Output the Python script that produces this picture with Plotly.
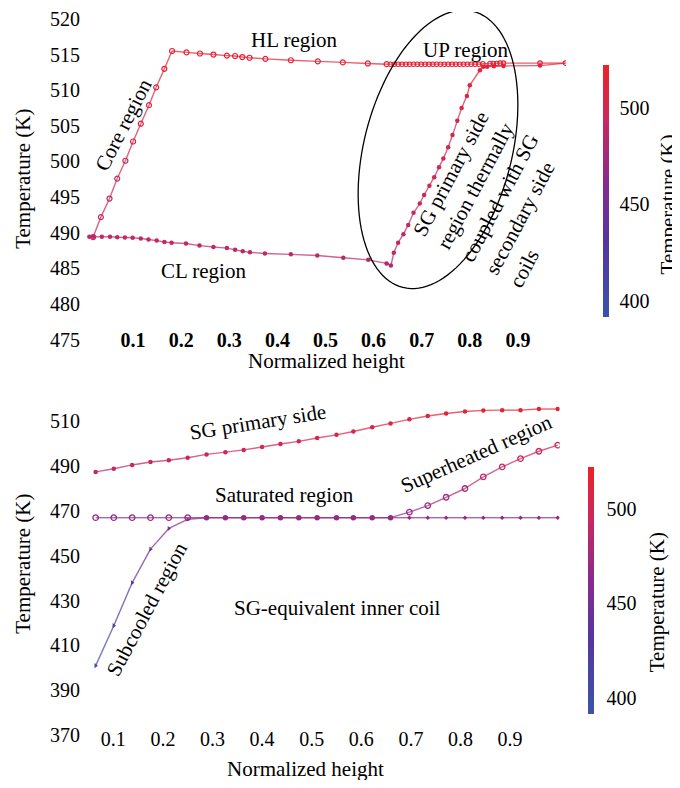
import numpy as np
import plotly.graph_objects as go
from plotly.colors import sample_colorscale

# page body has an 8 px margin: figure is shrunk and every reference pixel is shifted
OFF = 8
W, H = 680 - OFF, 788 - 2 * OFF
FONT = "Liberation Serif"

# ---------------- data: top panel (primary loop) ----------------
core_x = [0.017, 0.033, 0.051, 0.067, 0.084, 0.100, 0.116, 0.133, 0.148, 0.165, 0.181]
core_T = [489.4, 492.2, 494.8, 497.6, 500.1, 502.8, 505.3, 507.9, 510.4, 513.0, 515.5]

hl_x = [0.211, 0.239, 0.267, 0.295, 0.312, 0.327, 0.342, 0.375, 0.428, 0.484, 0.536, 0.588, 0.627]
hl_T = [515.3, 515.15, 515.0, 514.85, 514.8, 514.65, 514.55, 514.4, 514.2, 514.05, 513.9, 513.75, 513.65]

up_x = [0.635, 0.643, 0.651, 0.659, 0.667, 0.675, 0.683, 0.691, 0.699, 0.707, 0.715, 0.723,
        0.731, 0.739, 0.747, 0.755, 0.763, 0.771, 0.779, 0.787, 0.795, 0.803, 0.811, 0.819,
        0.827, 0.842, 0.849, 0.856, 0.863, 0.870, 0.946, 0.999]
up_T = [513.65, 513.65, 513.65, 513.65, 513.65, 513.65, 513.65, 513.65, 513.65, 513.65, 513.65, 513.65,
        513.65, 513.65, 513.65, 513.65, 513.65, 513.65, 513.65, 513.65, 513.65, 513.65, 513.65, 513.65,
        513.7, 513.75, 513.75, 513.75, 513.8, 513.8, 513.8, 513.8]

upret_x = [0.946, 0.870, 0.850, 0.836]
upret_T = [513.45, 513.4, 513.35, 513.3]

sg_x = [0.828, 0.821, 0.800, 0.794, 0.783, 0.774, 0.764, 0.755, 0.745, 0.736, 0.726, 0.716,
        0.705, 0.696, 0.683, 0.672, 0.662, 0.651, 0.642, 0.636]
sg_T = [513.3, 512.8, 510.7, 509.2, 507.5, 505.7, 503.7, 502.0, 500.4, 499.2, 497.8, 496.6,
        495.3, 494.1, 492.8, 491.1, 489.8, 488.6, 487.2, 485.4]

cl_x = [0.627, 0.589, 0.537, 0.483, 0.428, 0.374, 0.343, 0.328, 0.312, 0.295, 0.267, 0.238,
        0.210, 0.180, 0.165, 0.149, 0.132, 0.116, 0.099, 0.083, 0.067, 0.052, 0.035, 0.017, 0.009]
cl_T = [485.7, 486.2, 486.5, 486.8, 486.97, 487.1, 487.25, 487.4, 487.6, 487.85, 488.0, 488.2,
        488.5, 488.6, 488.7, 488.9, 489.06, 489.2, 489.29, 489.34, 489.38, 489.43, 489.43, 489.43, 489.43]

top_yticks = [475, 480, 485, 490, 495, 500, 505, 510, 515, 520]
x_ticks = [0.1, 0.2, 0.3, 0.4, 0.5, 0.6, 0.7, 0.8, 0.9]

# ---------------- data: bottom panel (SG) ----------------
bot_x = [0.0645, 0.101, 0.138, 0.175, 0.212, 0.250, 0.288, 0.326, 0.363, 0.400, 0.437, 0.474, 0.511,
         0.550, 0.584, 0.622, 0.659, 0.697, 0.734, 0.771, 0.809, 0.846, 0.884, 0.921, 0.958, 0.996]
prim_T = [487.3, 488.7, 490.4, 491.7, 492.5, 493.6, 495.1, 496.1, 497.1, 498.4, 499.7, 500.9, 502.4,
          503.8, 505.3, 507.2, 508.9, 510.7, 512.2, 513.3, 514.2, 514.7, 514.8, 514.8, 515.3, 515.3]
sat_T = [466.9, 466.9, 466.9, 466.9, 466.9, 466.9, 466.9, 466.9, 466.9, 466.9, 466.9, 466.9, 466.9,
         466.9, 466.9, 466.9, 466.9, 466.9, 466.9, 466.9, 466.9, 466.9, 466.9, 466.9, 466.9, 466.9]
fluid_T = [401.0, 418.8, 437.9, 452.9, 462.1, 466.2, 466.9, 466.9, 466.9, 466.9, 466.9, 466.9, 466.9,
           466.9, 466.9, 466.9, 466.9, 469.4, 472.3, 476.0, 479.9, 485.1, 489.5, 493.2, 496.5, 499.2]

bot_yticks = [370, 390, 410, 430, 450, 470, 490, 510]
cbar_ticks = [400, 450, 500]

# ---------------- style ----------------
SCALE = [[0.0, "rgb(59,84,168)"], [0.3, "rgb(84,54,160)"], [0.55, "rgb(138,43,140)"],
         [0.8, "rgb(205,40,90)"], [1.0, "rgb(237,33,39)"]]
CMIN, CMAX = 391.5, 522.0


def px2fx(px):
    return (px - OFF) / W


def py2fy(py):
    return 1 - (py - OFF) / H


fig = go.Figure()


def add_line(x, T, xa, ya, width=1.4, opacity=0.72):
    for i in range(len(x) - 1):
        v = ((T[i] + T[i + 1]) / 2 - CMIN) / (CMAX - CMIN)
        c = sample_colorscale(SCALE, [min(max(v, 0), 1)])[0]
        fig.add_trace(go.Scatter(x=[x[i], x[i + 1]], y=[T[i], T[i + 1]], mode="lines",
                                 line=dict(color=c, width=width), opacity=opacity,
                                 xaxis=xa, yaxis=ya, showlegend=False, hoverinfo="skip"))


def add_markers(x, T, xa, ya, cax, symbol, size, lw=0):
    fig.add_trace(go.Scatter(x=x, y=T, mode="markers", xaxis=xa, yaxis=ya, showlegend=False,
                             marker=dict(color=T, coloraxis=cax, symbol=symbol, size=size,
                                         line=dict(width=lw))))


# top loop line
loop_x = core_x + hl_x + up_x + upret_x + sg_x + cl_x + [core_x[0]]
loop_T = core_T + hl_T + up_T + upret_T + sg_T + cl_T + [core_T[0]]
add_line(loop_x, loop_T, "x", "y")
add_markers(core_x, core_T, "x", "y", "coloraxis", "circle-open", 5, 1.2)
add_markers(hl_x, hl_T, "x", "y", "coloraxis", "circle-open", 5, 1.2)
add_markers(up_x, up_T, "x", "y", "coloraxis", "circle-open", 4.5, 1.1)
add_markers(upret_x, upret_T, "x", "y", "coloraxis", "circle", 4.5)
add_markers(sg_x, sg_T, "x", "y", "coloraxis", "circle", 4.5)
add_markers(cl_x, cl_T, "x", "y", "coloraxis", "circle", 4.5)

# bottom lines
add_line(bot_x, prim_T, "x2", "y2")
add_line(bot_x, sat_T, "x2", "y2")
add_line(bot_x, fluid_T, "x2", "y2")
add_markers(bot_x, prim_T, "x2", "y2", "coloraxis2", "circle", 4.5)
add_markers(bot_x[:6], sat_T[:6], "x2", "y2", "coloraxis2", "circle-open", 5.5, 1.3)
add_markers(bot_x[17:], sat_T[17:], "x2", "y2", "coloraxis2", "diamond", 3.5)
add_markers(bot_x[:6], fluid_T[:6], "x2", "y2", "coloraxis2", "triangle-right", 4.5)
add_markers(bot_x[6:17], fluid_T[6:17], "x2", "y2", "coloraxis2", "circle", 5.5)
add_markers(bot_x[17:], fluid_T[17:], "x2", "y2", "coloraxis2", "circle-open", 5.5, 1.3)

# ellipse (reference pixel geometry mapped to top-panel data coords)
cx, cy = 438.0, 147.2
ux, uy = 0.2427, -0.970
vx, vy = 0.970, 0.2427
a_, b_ = 144.2, 74.0
t = np.linspace(0, 2 * np.pi, 121)
epx = cx + a_ * np.cos(t) * ux + b_ * np.sin(t) * vx
epy = cy + a_ * np.cos(t) * uy + b_ * np.sin(t) * vy
ex = (epx - 85) / 481.0
ey = 520 - (epy - 15) / 7.221
path = "M " + " L ".join(f"{xx:.5f},{yy:.4f}" for xx, yy in zip(ex, ey)) + " Z"
fig.add_shape(type="path", path=path, xref="x", yref="y", line=dict(color="black", width=1.3))

tickfont = dict(family=FONT, size=20, color="black")
axis_common = dict(showgrid=False, zeroline=False, showline=False, ticks="",
                   ticklabeloverflow="allow")

BSH = 3  # bottom panel vertical nudge (px)

fig.update_layout(
    width=W, height=H, margin=dict(l=0, r=0, t=0, b=0),
    paper_bgcolor="white", plot_bgcolor="white",
    font=dict(family=FONT, size=20, color="black"),
    xaxis=dict(domain=[px2fx(85), px2fx(566)], range=[0, 1], tickvals=x_ticks,
               ticktext=[f"{v:.1f}" for v in x_ticks],
               tickfont=dict(family=FONT, size=20, color="black", weight="bold"),
               ticklabelstandoff=-21, anchor="y", **axis_common),
    yaxis=dict(domain=[py2fy(347.2), 1.0], range=[474, 520.97], tickvals=top_yticks,
               tickfont=tickfont, ticklabelstandoff=4, anchor="x", **axis_common),
    xaxis2=dict(domain=[px2fx(85), px2fx(559.7)], range=[0.043, 1.0], tickvals=x_ticks,
                ticktext=[f"{v:.1f}" for v in x_ticks], tickfont=tickfont,
                ticklabelstandoff=-15, anchor="y2", **axis_common),
    yaxis2=dict(domain=[py2fy(742.3 + BSH), py2fy(401.1 + BSH)], range=[368, 518],
                tickvals=bot_yticks, tickfont=tickfont, ticklabelstandoff=4, anchor="x2",
                **axis_common),
    coloraxis=dict(colorscale=SCALE, cmin=CMIN, cmax=CMAX,
                   colorbar=dict(x=px2fx(603), xanchor="left", y=py2fy(189.5), yanchor="middle",
                                 len=255 / H, lenmode="fraction", thickness=6, outlinewidth=0,
                                 xpad=0, ypad=0, tickvals=cbar_ticks, tickfont=tickfont,
                                 ticks="outside", ticklen=7, tickcolor="rgba(0,0,0,0)")),
    coloraxis2=dict(colorscale=SCALE, cmin=CMIN, cmax=CMAX,
                    colorbar=dict(x=px2fx(588), xanchor="left", y=py2fy(594), yanchor="middle",
                                  len=250 / H, lenmode="fraction", thickness=6, outlinewidth=0,
                                  xpad=0, ypad=0, tickvals=cbar_ticks, tickfont=tickfont,
                                  ticks="outside", ticklen=9, tickcolor="rgba(0,0,0,0)")),
)

annots = [
    # (text, px, py, angle, align)  -- reference pixel positions
    ("Temperature (K)", 23, 177, -90, "center"),
    ("Normalized height", 326, 362, 0, "center"),
    ("Temperature (K)", 668, 203, -90, "center"),
    ("HL region", 294, 36, 0, "center"),
    ("UP region", 465, 46, 0, "center"),
    ("Core region", 123, 122, -63, "center"),
    ("CL region", 203, 270, 0, "center"),
    ("SG primary side<br>region thermally<br>coupled with SG<br>secondary side<br>coils", 500, 196, -62, "left"),
    ("Temperature (K)", 23, 567, -90, "center"),
    ("Normalized height", 305, 775, 0, "center"),
    ("Temperature (K)", 657, 606, -90, "center"),
    ("SG primary side", 258, 423, -9, "center"),
    ("Saturated region", 284, 497, 0, "center"),
    ("SG-equivalent inner coil", 337, 612, 0, "center"),
    ("Superheated region", 476, 456, -24, "center"),
    ("Subcooled region", 147, 613, -62, "center"),
]
for text, px, py, ang, al in annots:
    fig.add_annotation(text=text, x=px2fx(px), y=py2fy(py), xref="paper", yref="paper",
                       xanchor="center", yanchor="middle", textangle=ang, align=al,
                       showarrow=False, font=dict(family=FONT, size=21, color="black"))

fig.write_html("out.html")
